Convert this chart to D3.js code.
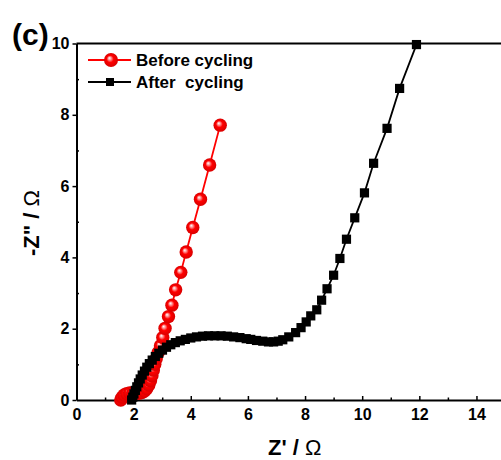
<!DOCTYPE html>
<html>
<head>
<meta charset="utf-8">
<script src="https://cdn.jsdelivr.net/npm/d3@7"></script>
<style>
  body { margin: 0; background: #fff; }
  text { font-family: "Liberation Sans", Arial, sans-serif; font-weight: bold; fill: #000; }
</style>
</head>
<body>
<svg id="chart" width="501" height="460"></svg>
<script>
// Nyquist data: Z' (real) and -Z'' (imaginary), in ohms
const seriesNames = ["Before cycling", "After  cycling"];

const beforeX = [1.55, 1.60, 1.67, 1.76, 1.86, 1.97, 2.08, 2.19, 2.29, 2.38, 2.46, 2.53, 2.59, 2.64, 2.69,
                 2.74, 2.79, 2.86, 2.94, 3.02, 3.10, 3.22, 3.34, 3.47, 3.65, 3.84, 4.07, 4.34, 4.66, 5.03];
const beforeY = [0.00, 0.08, 0.14, 0.18, 0.20, 0.20, 0.19, 0.19, 0.21, 0.25, 0.32, 0.42, 0.54, 0.68, 0.84,
                 1.00, 1.16, 1.33, 1.52, 1.75, 2.01, 2.34, 2.66, 3.09, 3.58, 4.15, 4.84, 5.63, 6.59, 7.71];

const afterX = [1.93, 1.97, 2.01, 2.06, 2.11, 2.17, 2.23, 2.30, 2.38, 2.46, 2.55, 2.65, 2.76, 2.88, 3.01,
                3.15, 3.30, 3.46, 3.63, 3.81, 4.00, 4.20, 4.41, 4.62, 4.84, 5.06, 5.28, 5.50, 5.72, 5.94,
                6.10, 6.30, 6.52, 6.72, 6.90, 7.06, 7.22, 7.43, 7.67, 7.86, 8.04, 8.20, 8.41, 8.58, 8.77,
                9.00, 9.22, 9.45, 9.74, 10.08, 10.40, 10.87, 11.31, 11.90];
const afterY = [0.00, 0.08, 0.17, 0.27, 0.37, 0.48, 0.59, 0.70, 0.81, 0.92, 1.02, 1.12, 1.22, 1.31, 1.40,
                1.48, 1.55, 1.61, 1.66, 1.70, 1.74, 1.77, 1.79, 1.80, 1.80, 1.80, 1.79, 1.77, 1.75, 1.72,
                1.70, 1.67, 1.65, 1.63, 1.63, 1.65, 1.69, 1.77, 1.89, 2.03, 2.19, 2.36, 2.53, 2.80, 3.12,
                3.50, 3.97, 4.51, 5.11, 5.81, 6.64, 7.62, 8.74, 9.97];

const xTicks = [0, 2, 4, 6, 8, 10, 12, 14];
const xMinorTicks = [1, 3, 5, 7, 9, 11, 13, 15];
const yTicks = [0, 2, 4, 6, 8, 10];
const yMinorTicks = [1, 3, 5, 7, 9];

const svg = d3.select("#chart");
svg.append("rect").attr("width", 501).attr("height", 460).attr("fill", "#fff");

const x = d3.scaleLinear().domain([0, 16]).range([76.5, 533.6]);
const y = d3.scaleLinear().domain([0, 10]).range([400, 43.5]);

// shaded sphere marker
const defs = svg.append("defs");
const grad = defs.append("radialGradient").attr("id", "sphere")
  .attr("cx", "50%").attr("cy", "50%").attr("r", "50%")
  .attr("fx", "38%").attr("fy", "35%");
grad.append("stop").attr("offset", "0%").attr("stop-color", "#ffffff");
grad.append("stop").attr("offset", "22%").attr("stop-color", "#ff9a9a");
grad.append("stop").attr("offset", "50%").attr("stop-color", "#ff0000");
grad.append("stop").attr("offset", "100%").attr("stop-color", "#d80000");

// frame: top edge
svg.append("line").attr("x1", 76.5).attr("x2", 501).attr("y1", 43.5).attr("y2", 43.5)
  .attr("stroke", "#000").attr("stroke-width", 2);

// axes
const styleAxis = g => {
  g.select(".domain").attr("stroke-width", 2);
  g.selectAll(".tick line").attr("stroke-width", 1.5);
  g.selectAll("text").style("font-size", "16px").style("font-family", "'Liberation Sans', Arial, sans-serif").style("font-weight", "bold");
};

svg.append("g").attr("transform", "translate(0,400)")
  .call(d3.axisBottom(x).tickValues(xMinorTicks).tickSize(-2.5).tickFormat(""))
  .call(g => g.select(".domain").remove())
  .selectAll(".tick line").attr("stroke-width", 1.5);
svg.append("g").attr("transform", "translate(76.5,0)")
  .call(d3.axisLeft(y).tickValues(yMinorTicks).tickSize(-2.5).tickFormat(""))
  .call(g => g.select(".domain").remove())
  .selectAll(".tick line").attr("stroke-width", 1.5);

svg.append("g").attr("transform", "translate(0,400)")
  .call(d3.axisBottom(x).tickValues(xTicks).tickSize(-4).tickPadding(9).tickSizeOuter(0))
  .call(styleAxis);
svg.append("g").attr("transform", "translate(76.5,0)")
  .call(d3.axisLeft(y).tickValues(yTicks).tickSize(4).tickPadding(3).tickSizeOuter(0))
  .call(styleAxis);

// series
const before = beforeX.map((v, i) => [v, beforeY[i]]);
const after = afterX.map((v, i) => [v, afterY[i]]);
const line = d3.line().x(d => x(d[0])).y(d => y(d[1]));

// before cycling: red line with spheres
svg.append("path").datum(before).attr("d", line)
  .attr("fill", "none").attr("stroke", "#ff0000").attr("stroke-width", 1.8);
svg.append("g").selectAll("circle").data(before).join("circle")
  .attr("cx", d => x(d[0])).attr("cy", d => y(d[1])).attr("r", 6.7)
  .attr("fill", "url(#sphere)");

// after cycling: black line with squares
svg.append("path").datum(after).attr("d", line)
  .attr("fill", "none").attr("stroke", "#000").attr("stroke-width", 1.8);
svg.append("g").selectAll("rect").data(after).join("rect")
  .attr("x", d => x(d[0]) - 4.6).attr("y", d => y(d[1]) - 4.6)
  .attr("width", 9.2).attr("height", 9.2).attr("fill", "#000");

// legend
const legend = svg.append("g");
legend.append("line").attr("x1", 88).attr("x2", 131).attr("y1", 60).attr("y2", 60)
  .attr("stroke", "#ff0000").attr("stroke-width", 1.8);
legend.append("circle").attr("cx", 111).attr("cy", 60).attr("r", 7).attr("fill", "url(#sphere)");
legend.append("text").attr("x", 136).attr("y", 66).style("font-size", "17px").text(seriesNames[0]);
legend.append("line").attr("x1", 88).attr("x2", 131).attr("y1", 82).attr("y2", 82)
  .attr("stroke", "#000").attr("stroke-width", 1.8);
legend.append("rect").attr("x", 106).attr("y", 78).attr("width", 8).attr("height", 8).attr("fill", "#000");
legend.append("text").attr("x", 136).attr("y", 88).style("font-size", "17px")
  .style("white-space", "pre").text(seriesNames[1]);

// axis titles
const xt = svg.append("text").attr("x", 268).attr("y", 455).style("font-size", "22px");
xt.append("tspan").text("Z' / ");
xt.append("tspan").style("font-weight", "normal").text("Ω");

const yt = svg.append("text").attr("transform", "translate(39,223) rotate(-90)")
  .attr("text-anchor", "middle").style("font-size", "22px");
yt.append("tspan").text("-Z\" / ");
yt.append("tspan").style("font-weight", "normal").text("Ω");

// panel label
svg.append("text").attr("x", 12).attr("y", 45).style("font-size", "30px").text("(c)");
</script>
</body>
</html>
